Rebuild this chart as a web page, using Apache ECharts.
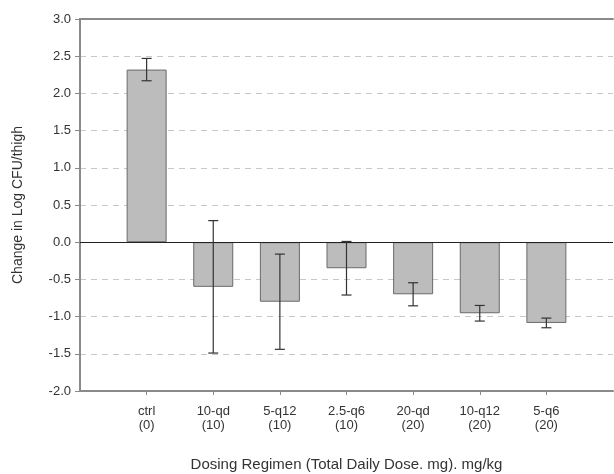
<!DOCTYPE html>
<html><head><meta charset="utf-8">
<script src="https://cdn.jsdelivr.net/npm/echarts@6/dist/echarts.min.js"></script>
<style>html,body{margin:0;padding:0;background:#fff}#c{width:614px;height:474px}</style>
</head><body><div id="c"></div>
<script>
const categories = ['', 'ctrl\n(0)', '10-qd\n(10)', '5-q12\n(10)', '2.5-q6\n(10)', '20-qd\n(20)', '10-q12\n(20)', '5-q6\n(20)', ''];
const means = [null, 2.32, -0.60, -0.80, -0.35, -0.70, -0.955, -1.085, null];
const errors = [null, 0.15, 0.89, 0.64, 0.36, 0.155, 0.105, 0.065, null];
const yTicks = [-2.0, -1.5, -1.0, -0.5, 0.0, 0.5, 1.0, 1.5, 2.0, 2.5, 3.0];

const errData = [];
means.forEach((m, i) => { if (m !== null) errData.push([i, m - errors[i], m + errors[i]]); });

const chart = echarts.init(document.getElementById('c'), null, {renderer: 'canvas'});
const axisGrey = '#8a8a8a';
const font = 'Liberation Sans, Arial, sans-serif';
chart.setOption({
  animation: false,
  grid: {left: 80, right: 1, top: 19, bottom: 83, containLabel: false, outerBoundsMode: 'none'},
  xAxis: [{
    type: 'category', data: categories, boundaryGap: false,
    axisLine: {onZero: false, lineStyle: {color: axisGrey, width: 2}},
    axisTick: {show: true, length: 4, interval: (i) => i > 0 && i < categories.length - 1, lineStyle: {color: axisGrey}},
    axisLabel: {interval: 0, color: '#333', fontSize: 13, fontFamily: font, lineHeight: 14, margin: 13},
    splitLine: {show: false},
    name: 'Dosing Regimen (Total Daily Dose. mg). mg/kg', nameLocation: 'middle', nameGap: 66,
    nameTextStyle: {color: '#333', fontSize: 15, fontFamily: font}
  }, {
    type: 'category', data: categories, boundaryGap: false, position: 'top',
    axisLine: {show: true, onZero: false, lineStyle: {color: axisGrey, width: 2}},
    axisTick: {show: false}, axisLabel: {show: false}
  }],
  yAxis: {
    type: 'value', min: yTicks[0], max: yTicks[yTicks.length - 1], interval: 0.5,
    axisLine: {show: true, lineStyle: {color: axisGrey, width: 2}},
    axisTick: {show: true, length: 5, lineStyle: {color: axisGrey}},
    axisLabel: {color: '#333', fontSize: 13, fontFamily: font, margin: 9, formatter: v => v.toFixed(1)},
    splitLine: {show: true, lineStyle: {color: '#c8c8c8', type: [6, 5], width: 1}},
    name: 'Change in Log CFU/thigh', nameLocation: 'middle', nameGap: 55,
    nameTextStyle: {color: '#333', fontSize: 14, fontFamily: font}
  },
  series: [{
    type: 'bar', data: means, barWidth: 40,
    itemStyle: {color: '#bcbcbc', borderColor: '#6a6a6a', borderWidth: 1},
    markLine: {silent: true, symbol: 'none', label: {show: false},
      lineStyle: {color: '#222', type: 'solid', width: 1.2},
      data: [{yAxis: 0}]},
    z: 2
  }, {
    type: 'custom', data: errData, z: 5,
    renderItem: function (params, api) {
      const x = api.value(0);
      const lo = api.coord([x, api.value(1)]);
      const hi = api.coord([x, api.value(2)]);
      const cap = 5;
      const style = {stroke: '#333', lineWidth: 1.2};
      return {type: 'group', children: [
        {type: 'line', shape: {x1: lo[0], y1: lo[1], x2: hi[0], y2: hi[1]}, style},
        {type: 'line', shape: {x1: lo[0] - cap, y1: lo[1], x2: lo[0] + cap, y2: lo[1]}, style},
        {type: 'line', shape: {x1: hi[0] - cap, y1: hi[1], x2: hi[0] + cap, y2: hi[1]}, style}
      ]};
    }
  }]
});
</script></body></html>
